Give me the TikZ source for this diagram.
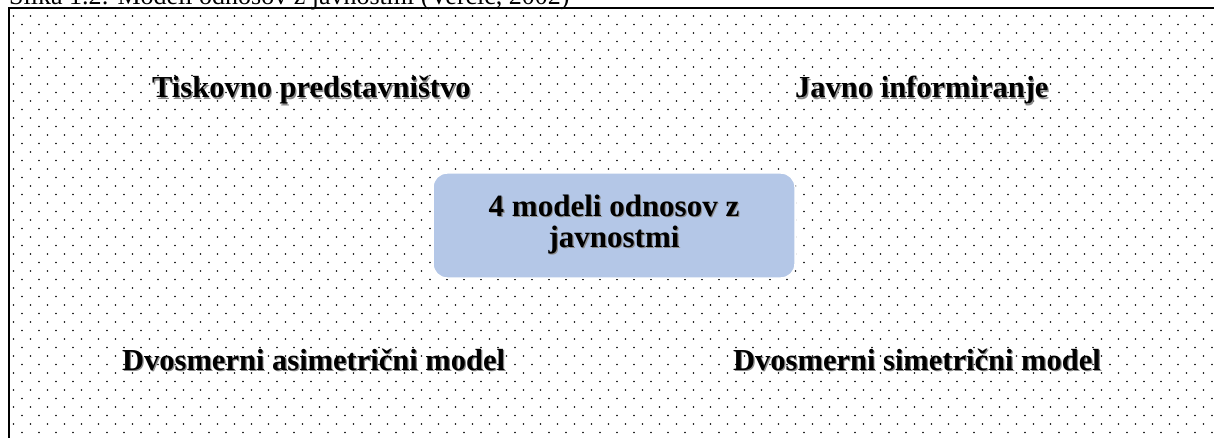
\documentclass[tikz,border=0pt]{standalone}
\usepackage{fontspec}
\setmainfont{Liberation Serif}
\newcommand{\shtext}[1]{\leavevmode\rlap{\hspace{1.2pt}\raisebox{-1.2pt}{\color{black!45}#1}}#1}
\definecolor{boxblue}{HTML}{B4C7E7}
\tikzset{
  lbl/.style={inner sep=0pt, anchor=base west, font=\fontsize{30.5}{31}\selectfont\bfseries},
  cbox/.style={fill=boxblue, draw=white, line width=1.5pt, rounded corners=14pt,
    minimum width=362pt, minimum height=105pt, inner sep=0pt,
    font=\fontsize{31}{31}\selectfont\bfseries},
  captxt/.style={inner sep=0pt, anchor=base west, font=\fontsize{26}{28}\selectfont}
}
\begin{document}
\begin{tikzpicture}[x=1pt,y=-1pt]
\useasboundingbox (0,0) rectangle (1214,438);
\clip (0,0) rectangle (1214,438);
\fill[white] (0,0) rectangle (1214,438);
% caption (cut at top)
\node[captxt] (caption) at (9,5) {Slika 1.2: Modeli odnosov z javnostmi (Verčič, 2002)};
% dot pattern
\foreach \k in {0,...,49}{
  \pgfmathsetmacro{\yy}{16+8.5*\k}
  \pgfmathsetmacro{\xo}{mod(\k,2)==0 ? 13.5 : 22}
  \foreach \j in {0,...,71}{
    \fill[black] ({\xo+17*\j},\yy) circle (0.8);
  }
}
% frame
\draw[line width=1.4pt] (9,440) -- (9,8) -- (1216,8);
% centre box
\node[cbox] (c) at (614,225.5) {\raisebox{-4pt}{\begin{tabular}{@{}c@{}}\shtext{4 modeli odnosov z}\\\shtext{javnostmi}\end{tabular}}};
% labels
\node[lbl] (tp) at (152,98) {\shtext{Tiskovno predstavništvo}};
\node[lbl] (ji) at (795,98) {\shtext{Javno informiranje}};
\node[lbl] (da) at (122,370) {\shtext{Dvosmerni asimetrični model}};
\node[lbl] (ds) at (733,370) {\shtext{Dvosmerni simetrični model}};
\end{tikzpicture}
\end{document}
